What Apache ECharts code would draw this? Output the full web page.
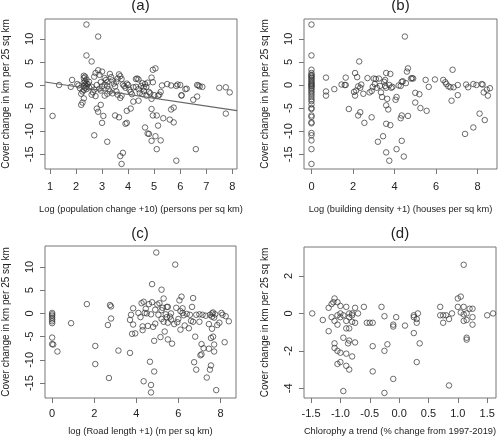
<!DOCTYPE html>
<html><head><meta charset="utf-8">
<script src="https://cdn.jsdelivr.net/npm/echarts@6/dist/echarts.min.js"></script>
<style>html,body{margin:0;padding:0;background:#fff}#c{width:500px;height:444px}</style>
</head><body><div id="c"></div>
<script>
// ---- data ----
const panelTitles = ['(a)', '(b)', '(c)', '(d)'];
const xTitles = [
  'Log (population change +10) (persons per sq km)',
  'Log (building density +1) (houses per sq km)',
  'log (Road length +1) (m per sq km)',
  'Chlorophy a trend (% change from 1997-2019)'
];
const yTitle = 'Cover change in km per 25 sq km';

const xTicksA = [1, 2, 3, 4, 5, 6, 7, 8];
const xTicksB = [0, 2, 4, 6, 8];
const xTicksC = [0, 2, 4, 6, 8];
const xTicksD = [-1.5, -1.0, -0.5, 0.0, 0.5, 1.0, 1.5];
const yTicksABC = [-15, -10, -5, 0, 5, 10];
const yTicksD = [-4, -2, 0, 2];

// regression line in panel (a): intercept, slope
const regA = [1.33, -0.843];

const popPts = [
  [2.4,13.1],[2.85,10.5],[2.4,6.4],[2.6,5.1],[1.1,-6.7],[1.35,0],[1.85,1.1],[1.8,-0.4],
  [2.2,-4.3],[2.25,-3.8],[2.3,-2.9],[2.7,-10.9],[3.2,-12.3],[3.0,-8.2],[2.8,-5.1],[2.85,-5.8],
  [3.05,-6.7],[2.95,-4.3],[3.5,-6.6],[3.65,-7.0],[3.7,-15.4],[3.75,-17.1],[3.8,-14.7],
  [3.9,-8.4],[3.95,-8.2],[3.95,-5.6],[4.1,-5.1],[4.2,-3.6],[4.4,-3.4],[4.65,-9.2],[4.75,-10.5],
  [4.8,-10.6],[4.9,-12.1],[5.05,-11.1],[5.1,-13.9],[4.9,-5.2],[4.95,-6.6],[5.1,-6.6],[5.15,-8.8],
  [5.25,-12.0],[5.35,-7.2],[5.6,-7.5],[5.75,-8.1],[5.65,-5.3],[5.75,-4.9],[5.85,-16.4],[6.6,-13.9],
  [6.5,-3.2],[6.65,-2.5],[7.75,-6.2],[4.95,3.3],[5.05,3.6],[4.9,1.6],[4.95,0.6],[6.05,-2.2],
  [6.05,-2.3],[6.2,-0.9],[6.25,-0.8],[6.7,-0.1],[6.75,-0.3],[6.85,-0.4],[6.65,0.0],[7.5,-0.6],
  [7.75,-0.5],[7.9,-1.6],[5.5,0.2],[5.65,-0.1],[5.85,-0.2],[5.9,0.1],[6.0,0.0],[5.3,-0.1],
  [5.25,-1.5],[5.2,-2.1],[5.15,-2.3],[5.0,-2.2],[4.9,-3.0],
  [2.3,2.0],[2.35,1.8],[2.3,1.5],[2.4,1.2],[2.35,0.8],[2.3,0.5],[2.4,0.3],[2.35,0.1],[2.3,-0.2],
  [2.4,-0.3],[2.35,-0.6],[2.3,-1.1],[2.2,-1.9],[2.25,-1.4],[2.4,-0.9],[2.45,0.2],[2.5,-0.5],[2.5,0.7],
  [2.1,-0.1],[2.15,-0.7],[2.05,0.2],
  [2.6,-0.4],[2.65,-1.6],[2.7,-1.0],[2.7,1.8],[2.75,2.6],[2.85,3.2],[2.9,2.2],[3.0,2.9],[2.95,0.6],
  [2.8,0.0],[2.9,-0.8],[2.95,-1.2],[3.0,-0.3],[2.6,-2.1],[2.75,-2.4],
  [3.1,1.5],[3.15,1.1],[3.2,0.6],[3.1,0.1],[3.2,-0.2],[3.25,-0.9],[3.1,-2.3],[3.2,-1.9],[3.3,-1.4],
  [3.3,2.4],[3.35,1.7],[3.4,1.0],[3.45,0.3],[3.5,-0.3],[3.55,0.7],[3.6,1.4],[3.65,2.3],[3.7,1.9],
  [3.75,1.3],[3.4,-1.8],[3.55,-1.4],[3.6,-2.1],[3.7,-2.8],[3.75,-2.3],
  [3.8,0.1],[3.85,-0.2],[3.9,-0.6],[3.95,0.3],[4.0,0.0],[4.05,-1.0],[4.1,-1.5],[4.15,-2.0],[4.2,-0.5],
  [4.3,1.3],[4.35,1.4],[4.4,1.2],[4.3,-0.4],[4.4,-0.9],[4.45,-1.7],[4.5,-0.2],[4.55,0.4],[4.6,-0.5],
  [4.65,0.2],[4.7,-0.4],[4.75,0.5],[4.8,-1.5],[4.85,-1.8],[4.7,-2.3],[4.6,-1.3],[4.55,-2.0]
];

const bldPts = [
  [0,13.1],[0,6.4],[0,3.3],[0,2.6],[0,2.2],[0,2.0],[0,1.8],[0,1.5],[0,1.2],[0,0.9],[0,0.6],[0,0.3],
  [0,0.1],[0,-0.1],[0,-0.3],[0,-0.6],[0,-0.9],[0,-1.3],[0,-1.7],[0,-2.1],[0,-2.6],[0,-3.1],[0,-3.5],
  [0,-4.2],[0,-5.0],[0,-5.2],[0,-6.6],[0,-6.9],[0,-8.1],[0,-8.3],[0,-10.4],[0,-10.9],[0,-12.0],
  [0,-13.9],[0,-17.1],
  [0.7,1.6],[0.7,-1.4],[0.7,-2.3],[1.1,-0.9],[1.45,0.1],[1.65,1.6],[1.6,0.0],[1.65,0.0],[1.8,-5.2],
  [2.1,2.6],[2.05,-1.5],[2.1,-2.3],[2.15,-1.2],[2.2,1.7],[2.25,-0.3],[2.25,-6.6],[2.35,-5.9],[2.3,5.1],
  [2.35,-0.6],[2.4,0.1],[2.5,-1.9],[2.55,-8.2],[2.7,1.5],[2.8,-1.6],[2.9,-7.0],[2.9,-1.3],[2.95,-0.4],
  [3.0,1.4],[3.05,0.2],[3.1,1.3],[3.15,-0.6],[3.2,-12.3],[3.25,1.4],[3.3,-0.2],[3.35,-1.6],[3.4,-2.6],
  [3.45,-11.1],[3.5,0.7],[3.55,1.1],[3.6,2.6],[3.55,-0.2],[3.6,-0.6],[3.6,-4.4],[3.6,-8.4],[3.6,-14.6],
  [3.65,-3.0],[3.7,-5.3],[3.75,-16.4],[3.75,0.0],[3.8,2.4],[3.8,-8.7],[3.85,-0.6],[3.9,-0.4],
  [4.05,-3.2],[4.1,-2.6],[4.1,-13.9],[4.2,-0.1],[4.3,-0.2],[4.3,-7.2],[4.35,-6.6],[4.35,-12.1],
  [4.35,0.7],[4.4,0.8],[4.45,-15.5],[4.5,10.5],[4.55,0.4],[4.6,2.9],[4.65,3.6],[4.65,-6.7],
  [4.8,1.4],[4.85,1.5],[4.9,1.4],[5.0,-1.7],[5.0,-3.8],[5.2,-2.0],[5.25,-5.0],[5.5,1.1],[5.55,-5.6],
  [5.65,-0.4],[5.95,1.2],[6.35,1.1],[6.45,0.6],[6.5,0.2],[6.6,-0.3],[6.7,-0.5],[6.75,-3.4],[6.8,3.3],
  [6.85,-0.5],[7.05,0.0],[7.05,-2.2],[7.4,-10.6],[7.45,0.1],[7.55,-0.5],[7.8,0.2],[7.8,-9.2],
  [7.95,0.0],[8.1,-6.2],[8.2,0.2],[8.25,0.1],[8.3,-1.6],[8.35,-7.6],[8.45,-1.0],[8.5,-2.3],[8.6,-0.7]
];

const roadPts = [
  [0,0.1],[0,-0.2],[0,-0.5],[0,-0.9],[0,-1.3],[0,-1.7],[0,-2.1],[0,-5.2],[0,-6.6],[0.05,-6.7],
  [0.25,-8.2],[0.9,-2.1],[1.65,2.0],[2.05,-7.0],[2.05,-10.9],[2.65,-2.5],[2.7,-13.9],[2.75,1.8],
  [2.8,1.5],[2.8,-1.1],[3.15,-8.0],[3.7,-8.5],[3.7,-1.4],[3.75,-0.3],[3.85,1.1],[3.85,-2.4],
  [3.8,-4.4],[3.95,-4.3],
  [4.1,0.1],[4.2,-0.8],[4.25,2.2],[4.3,-3.6],[4.35,2.5],[4.3,-2.8],[4.35,-14.6],[4.4,0.1],[4.45,1.0],
  [4.5,0.0],[4.6,2.0],[4.55,-2.7],[4.65,-10.4],[4.7,-15.4],[4.7,-17.0],[4.75,6.3],[4.75,2.4],
  [4.7,-0.2],[4.8,-2.9],[4.85,-5.9],[4.85,-12.5],[4.9,-2.2],[4.95,13.1],[4.9,0.8],[5.0,1.9],
  [5.05,-0.3],[5.1,2.2],[5.15,-5.1],[5.2,5.1],[5.2,0.7],[5.25,1.2],[5.3,3.2],[5.2,-1.2],[5.3,-1.8],
  [5.35,-3.9],[5.4,-0.2],[5.45,-0.8],[5.45,1.4],[5.5,1.4],[5.5,-2.0],[5.5,-5.6],[5.6,-0.7],[5.65,0.0],
  [5.65,-1.3],[5.7,-6.5],[5.8,-2.3],[5.85,10.5],[5.9,1.2],[5.95,-1.9],[6.0,-1.2],[6.05,2.8],[6.1,0.5],
  [6.1,-3.5],[6.15,3.6],[6.2,1.1],[6.2,0.1],[6.25,-0.4],[6.3,-2.6],[6.4,-0.1],[6.5,-3.2],[6.55,-0.3],
  [6.6,-1.6],[6.65,1.4],[6.7,3.3],[6.7,-1.8],[6.75,-10.5],[6.8,-5.0],[6.85,-0.3],[6.85,-12.1],
  [7.0,-0.2],[7.0,-1.8],[7.05,-9.0],[7.1,-8.8],[7.1,-6.6],[7.15,-0.3],[7.2,-7.5],[7.3,-0.5],
  [7.35,-13.8],[7.45,-7.6],[7.45,-2.3],[7.5,-0.3],[7.5,-12.1],[7.55,-11.2],[7.55,-5.3],[7.6,0.0],
  [7.6,-0.7],[7.6,-3.3],[7.65,0.2],[7.65,-5.0],[7.7,-8.2],[7.7,-6.7],[7.7,-0.9],[7.75,-0.2],
  [7.8,-16.5],[7.85,-2.5],[7.95,-2.0],[8.05,0.1],[8.1,-0.3],[8.2,-6.2],[8.25,-0.6],[8.4,-1.7]
];

const chlPts = [
  [-1.48,0.0],[-1.3,-0.35],[-1.2,0.3],[-1.15,0.5],[-1.1,0.8],[-1.12,0.6],[-1.15,-0.2],[-1.2,-0.95],
  [-1.1,-0.4],[-1.05,-0.1],[-1.0,0.0],[-1.05,0.6],[-1.0,0.4],[-1.05,-0.6],[-1.0,-0.2],
  [-1.1,-1.6],[-1.1,-1.85],[-1.05,-2.0],[-1.0,-2.1],[-1.05,-2.7],[-1.0,-2.6],
  [-0.95,-1.3],[-0.9,-2.15],[-0.85,-1.45],[-0.87,-1.6],[-0.9,-2.8],[-0.85,-3.0],[-0.8,-2.3],[-0.95,-4.15],
  [-0.95,-0.1],[-0.9,-0.4],[-0.85,-0.2],[-0.9,0.35],[-0.85,-0.8],[-0.8,0.0],[-0.8,-0.1],[-0.75,0.3],
  [-0.75,-0.5],[-0.7,0.0],[-0.75,-1.55],[-0.8,-0.45],[-0.85,0.0],[-0.9,-0.8],
  [-0.6,0.35],[-0.5,-0.5],[-0.45,-0.5],[-0.55,-0.5],[-0.45,-1.75],[-0.45,-3.1],
  [-0.3,0.35],[-0.25,-0.15],[-0.25,-2.0],[-0.2,-1.65],[-0.25,-4.25],
  [-0.1,-0.6],[-0.1,-0.7],[-0.1,-3.5],[-0.05,-0.2],[0.1,-0.65],
  [0.25,-0.1],[0.25,-0.2],[0.25,-1.05],[0.3,-0.3],[0.3,-0.5],[0.3,-2.6],[0.32,0.0],[0.35,-1.6],
  [0.7,0.35],[0.7,-0.1],[0.75,-0.1],[0.75,-0.5],[0.8,-0.1],[0.85,-0.3],[0.85,-3.85],[0.9,0.0],
  [1.0,0.8],[1.05,0.9],[1.0,0.35],[1.05,0.05],[1.1,-0.05],[1.1,0.35],[1.1,-0.4],[1.1,2.6],
  [1.15,0.0],[1.15,-0.35],[1.15,-1.3],[1.15,-1.4],[1.2,0.25],[1.25,0.25],[1.25,-0.2],[1.25,-0.6],
  [1.5,-0.1],[1.6,0.0]
];

// ---- chart ----
const FONT = 'Liberation Sans, Arial, sans-serif';
const TXT = '#222';
const BOX = '#777';
const grids = [
  {left: 44, top: 19, width: 193, height: 150},
  {left: 304, top: 19, width: 193, height: 150},
  {left: 44, top: 246, width: 192, height: 152},
  {left: 304, top: 247, width: 192, height: 151}
];
const titleY = [6, 6, 234, 234];
const xNameGap = [36, 36, 29, 29];
const xLabelMargin = [12, 12, 10, 10];
const xRanges = [[0.81, 8.18], [-0.36, 8.94], [-0.34, 8.74], [-1.62, 1.65]];
const yRanges = [[-18.2, 14.3], [-18.2, 14.3], [-18.2, 14.5], [-4.52, 3.55]];
const xTicks = [xTicksA, xTicksB, xTicksC, xTicksD];
const yTicks = [yTicksABC, yTicksABC, yTicksABC, yTicksD];
const pts = [popPts, bldPts, roadPts, chlPts];

function fmtX(i) {
  return v => i === 3 ? v.toFixed(1) : String(v);
}

const option = {
  backgroundColor: '#fff',
  animation: false,
  textStyle: {fontFamily: FONT},
  graphic: grids.map((g, i) => ({
    type: 'text', x: g.left + g.width / 2, y: titleY[i], silent: true,
    style: {text: panelTitles[i], fill: TXT, font: '15px ' + FONT, align: 'center', verticalAlign: 'middle'}
  })),
  grid: grids.map(g => Object.assign({show: true, borderColor: BOX, borderWidth: 1, backgroundColor: 'transparent'}, g)),
  xAxis: grids.map((g, i) => ({
    type: 'value', gridIndex: i, min: xRanges[i][0], max: xRanges[i][1], position: 'bottom',
    name: xTitles[i], nameLocation: 'middle', nameGap: xNameGap[i],
    nameTextStyle: {fontFamily: FONT, fontSize: 9.3, color: TXT},
    axisLine: {show: false, onZero: false},
    splitLine: {show: false},
    axisTick: {show: true, inside: false, length: 5, lineStyle: {color: BOX}, customValues: xTicks[i]},
    axisLabel: {show: true, margin: xLabelMargin[i], fontFamily: FONT, fontSize: 11, color: TXT,
      customValues: xTicks[i], formatter: fmtX(i)}
  })),
  yAxis: grids.map((g, i) => ({
    type: 'value', gridIndex: i, min: yRanges[i][0], max: yRanges[i][1], position: 'left',
    name: yTitle, nameLocation: 'middle', nameGap: 34, nameRotate: 90,
    nameTextStyle: {fontFamily: FONT, fontSize: 10, color: TXT},
    axisLine: {show: false, onZero: false},
    splitLine: {show: false},
    axisTick: {show: true, inside: false, length: 5, lineStyle: {color: BOX}, customValues: yTicks[i]},
    axisLabel: {show: true, rotate: 90, margin: 10, fontFamily: FONT, fontSize: 11, color: TXT,
      customValues: yTicks[i]}
  })),
  series: pts.map((p, i) => ({
    type: 'scatter', xAxisIndex: i, yAxisIndex: i, data: p,
    symbol: 'circle', symbolSize: 5.5,
    itemStyle: {color: 'rgba(0,0,0,0)', borderColor: '#333', borderWidth: 0.9},
    silent: true
  })).concat([{
    type: 'line', xAxisIndex: 0, yAxisIndex: 0, symbol: 'none', silent: true,
    data: xRanges[0].map(x => [x, regA[0] + regA[1] * x]),
    lineStyle: {color: '#666', width: 1.2}
  }])
};
const chart = echarts.init(document.getElementById('c'), null, {renderer: 'canvas'});
chart.setOption(option);
</script>
</body></html>
